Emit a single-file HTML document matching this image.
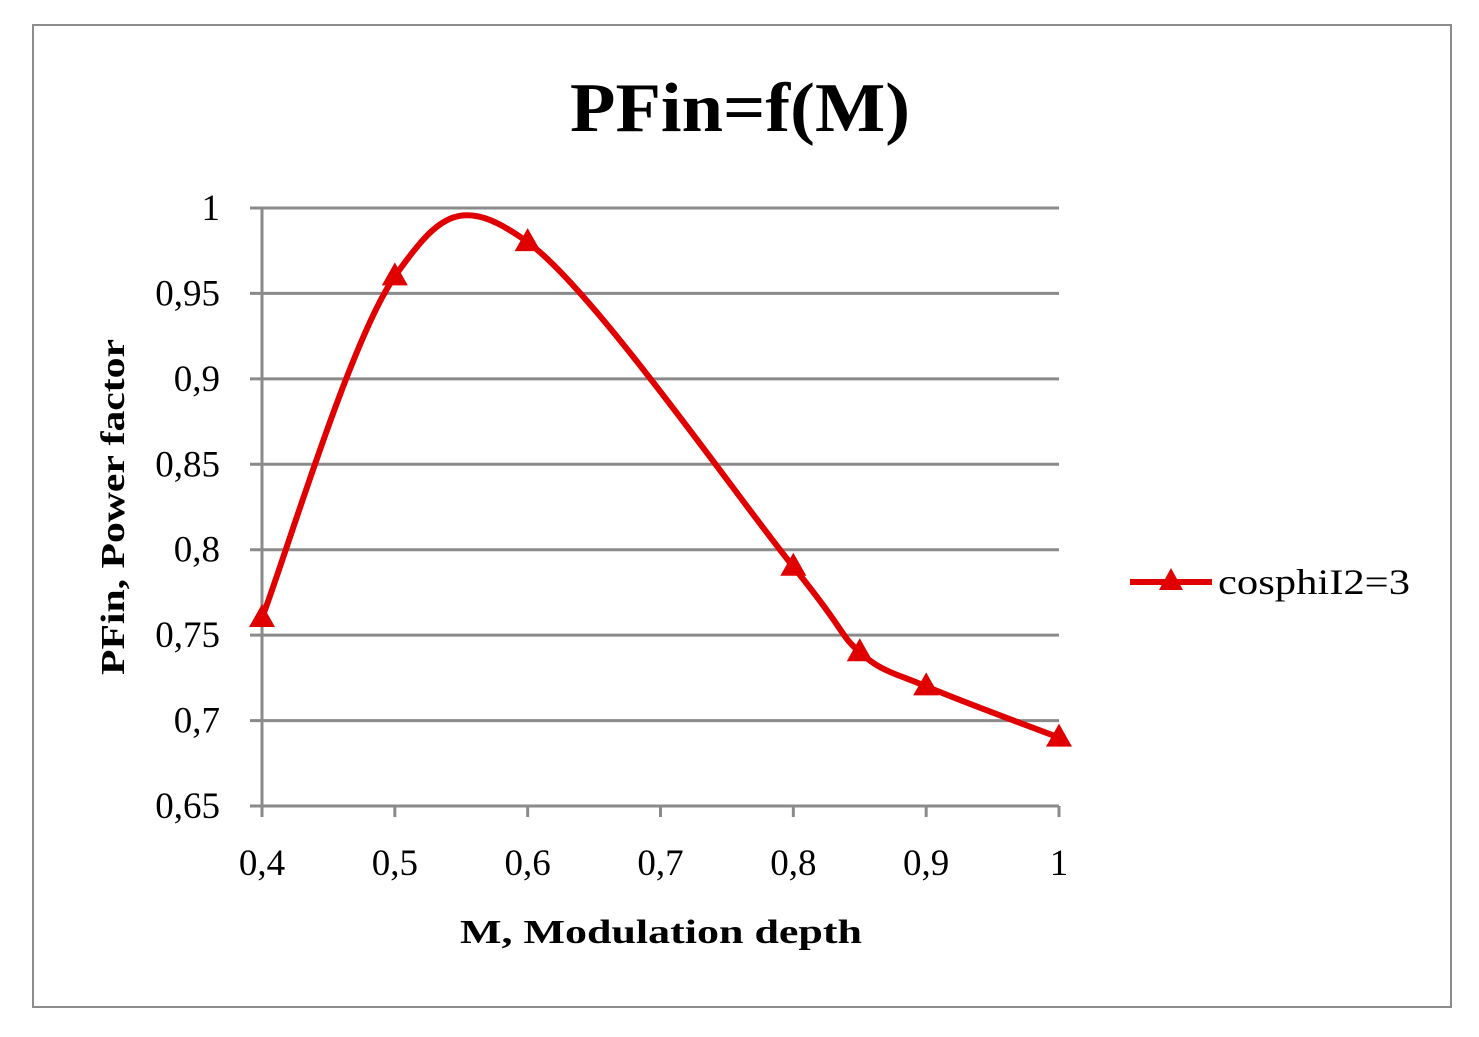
<!DOCTYPE html>
<html><head><meta charset="utf-8"><style>
html,body{margin:0;padding:0;background:#fff;}
svg{display:block;font-family:"Liberation Serif",serif;}
</style></head><body>
<svg id="chart" width="1479" height="1037" viewBox="0 0 1479 1037">
<rect x="33" y="25" width="1418" height="982" fill="#fff" stroke="#8c8c8c" stroke-width="2"/>
<text x="740" y="131" text-anchor="middle" font-size="70" font-weight="bold" textLength="340" lengthAdjust="spacingAndGlyphs">PFin=f(M)</text>
<g id="grid"></g>
<g id="axes"></g>
<g id="ylabels"></g>
<g id="xlabels"></g>
<text transform="translate(124,507) rotate(-90)" text-anchor="middle" font-size="34" font-weight="bold" textLength="336" lengthAdjust="spacingAndGlyphs">PFin, Power factor</text>
<text x="661" y="943" text-anchor="middle" font-size="34" font-weight="bold" textLength="402" lengthAdjust="spacingAndGlyphs">M, Modulation depth</text>
<g id="series"></g>
<g>
<line x1="1130" y1="582" x2="1212" y2="582" stroke="#e00000" stroke-width="6"/>
<polygon points="1171,568 1183,590 1159,590" fill="#e00000"/>
<text x="1218" y="594" font-size="36" textLength="192" lengthAdjust="spacingAndGlyphs">cosphiI2=3</text>
</g>
</svg>
<script>
const xValues=[0.4,0.5,0.6,0.8,0.85,0.9,1.0];
const yValues=[0.76,0.96,0.98,0.79,0.74,0.72,0.69];
const yTicks=[0.65,0.7,0.75,0.8,0.85,0.9,0.95,1];
const yTickLabels=["0,65","0,7","0,75","0,8","0,85","0,9","0,95","1"];
const xTicks=[0.4,0.5,0.6,0.7,0.8,0.9,1];
const xTickLabels=["0,4","0,5","0,6","0,7","0,8","0,9","1"];
const X0=262,X1=1059,Y0=806,Y1=208;
const sx=v=>X0+(v-0.4)/(1-0.4)*(X1-X0);
const sy=v=>Y0-(v-0.65)/(1-0.65)*(Y0-Y1);
const NS="http://www.w3.org/2000/svg";
function mk(t,a,p){const e=document.createElementNS(NS,t);for(const k in a)e.setAttribute(k,a[k]);p.appendChild(e);return e;}
const grid=document.getElementById('grid'),axes=document.getElementById('axes');
const yl=document.getElementById('ylabels'),xl=document.getElementById('xlabels');
yTicks.forEach((t,i)=>{
 const g=mk('line',{x1:250,x2:X1,y1:sy(t),y2:sy(t),stroke:'#8a8a8a','stroke-width':3},grid);
 
 
 const tx=mk('text',{x:220,y:sy(t)+12,'text-anchor':'end','font-size':37},yl);
 tx.textContent=yTickLabels[i];
 
 
});
mk('line',{x1:X0,x2:X0,y1:Y1,y2:Y0+11,stroke:'#8a8a8a','stroke-width':3},axes);
xTicks.forEach((t,i)=>{
 mk('line',{x1:sx(t),x2:sx(t),y1:Y0,y2:Y0+11,stroke:'#8a8a8a','stroke-width':3},axes);
 const tx=mk('text',{x:sx(t),y:875,'text-anchor':'middle','font-size':37},xl);
 tx.textContent=xTickLabels[i];
 
 
});
const pts=xValues.map((x,i)=>[sx(x),sy(yValues[i])]);
let d=`M${pts[0][0]},${pts[0][1]}`;
for(let i=0;i<pts.length-1;i++){
 const p0=pts[Math.max(0,i-1)],p1=pts[i],p2=pts[i+1],p3=pts[Math.min(pts.length-1,i+2)];
 const c1=[p1[0]+(p2[0]-p0[0])/6,p1[1]+(p2[1]-p0[1])/6];
 const c2=[p2[0]-(p3[0]-p1[0])/6,p2[1]-(p3[1]-p1[1])/6];
 d+=` C${c1[0]},${c1[1]} ${c2[0]},${c2[1]} ${p2[0]},${p2[1]}`;
}
const s=document.getElementById('series');
const ln=mk('path',{d:d,fill:'none',stroke:'#e00000','stroke-width':6,'stroke-linejoin':'round'},s);


pts.forEach(p=>{
 const m=mk('polygon',{points:`${p[0]},${p[1]-14} ${p[0]+13},${p[1]+9} ${p[0]-13},${p[1]+9}`,fill:'#e00000'},s);
 
 
});
</script>
</body></html>
